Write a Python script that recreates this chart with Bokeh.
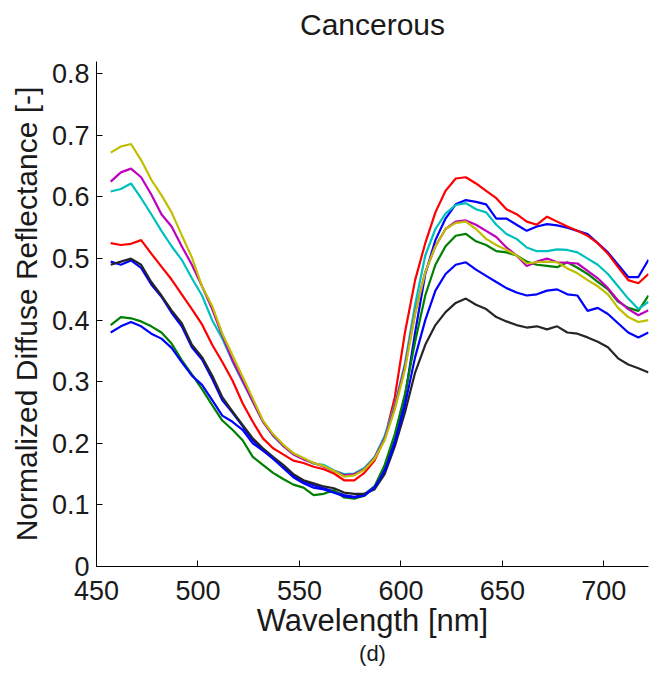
from bokeh.plotting import figure
from bokeh.models import Range1d, FixedTicker, Title
from bokeh.embed import file_html
from bokeh.resources import INLINE

wavelength = [457, 462, 467, 472, 477, 482, 487, 492, 497, 502, 507, 512, 517, 522,
              527, 532, 537, 542, 547, 552, 557, 562, 567, 572, 577, 582, 587, 592,
              597, 602, 607, 612, 617, 622, 627, 632, 637, 642, 647, 652, 657, 662,
              667, 672, 677, 682, 687, 692, 697, 702, 707, 712, 717, 722]

blue_1 = [0.495, 0.49, 0.497, 0.485, 0.458, 0.438, 0.412, 0.39, 0.356, 0.336, 0.305, 0.27,
          0.25, 0.228, 0.205, 0.19, 0.175, 0.162, 0.148, 0.138, 0.132, 0.127, 0.122, 0.116,
          0.113, 0.117, 0.13, 0.158, 0.205, 0.275, 0.38, 0.475, 0.53, 0.565, 0.588, 0.595,
          0.592, 0.588, 0.565, 0.565, 0.555, 0.545, 0.552, 0.556, 0.554, 0.55, 0.545, 0.54,
          0.525, 0.51, 0.49, 0.47, 0.47, 0.498]
green = [0.392, 0.405, 0.403, 0.398, 0.39, 0.38, 0.362, 0.335, 0.312, 0.288, 0.262, 0.237,
         0.222, 0.205, 0.178, 0.165, 0.152, 0.142, 0.133, 0.128, 0.116, 0.118, 0.124, 0.112,
         0.11, 0.115, 0.13, 0.165, 0.215, 0.28, 0.365, 0.44, 0.49, 0.52, 0.537, 0.54,
         0.528, 0.522, 0.512, 0.51, 0.505, 0.495, 0.49, 0.488, 0.486, 0.494, 0.485, 0.475,
         0.462, 0.45, 0.43, 0.42, 0.415, 0.44]
red = [0.525, 0.522, 0.524, 0.53, 0.508, 0.487, 0.466, 0.442, 0.418, 0.393, 0.36, 0.332,
       0.302, 0.265, 0.235, 0.208, 0.192, 0.182, 0.172, 0.168, 0.162, 0.158, 0.151, 0.14,
       0.14, 0.152, 0.172, 0.208, 0.275, 0.38, 0.465, 0.525, 0.575, 0.61, 0.63, 0.632,
       0.622, 0.61, 0.598, 0.58, 0.572, 0.56, 0.555, 0.568, 0.56, 0.552, 0.545, 0.537,
       0.525, 0.508, 0.486, 0.465, 0.46, 0.475]
cyan = [0.609, 0.613, 0.622, 0.598, 0.572, 0.545, 0.52, 0.498, 0.468, 0.44, 0.4, 0.37,
        0.333, 0.3, 0.268, 0.236, 0.212, 0.196, 0.184, 0.175, 0.167, 0.165, 0.156, 0.15,
        0.151, 0.16, 0.178, 0.212, 0.262, 0.33, 0.425, 0.505, 0.548, 0.573, 0.587, 0.59,
        0.58, 0.575, 0.555, 0.54, 0.532, 0.518, 0.512, 0.512, 0.515, 0.514, 0.51, 0.5,
        0.49, 0.475, 0.455, 0.435, 0.418, 0.43]
magenta = [0.625, 0.64, 0.646, 0.632, 0.604, 0.572, 0.552, 0.52, 0.49, 0.455, 0.418, 0.375,
           0.335, 0.302, 0.268, 0.235, 0.213, 0.196, 0.182, 0.174, 0.168, 0.162, 0.155, 0.148,
           0.15, 0.158, 0.176, 0.208, 0.258, 0.325, 0.412, 0.478, 0.52, 0.548, 0.56, 0.562,
           0.555, 0.545, 0.535, 0.518, 0.505, 0.488, 0.495, 0.5, 0.494, 0.493, 0.492, 0.48,
           0.468, 0.452, 0.432, 0.418, 0.408, 0.416]
yellow = [0.672, 0.682, 0.686, 0.66, 0.628, 0.603, 0.575, 0.538, 0.502, 0.455, 0.423, 0.378,
          0.343, 0.308, 0.273, 0.237, 0.215, 0.198, 0.184, 0.176, 0.168, 0.163, 0.155, 0.146,
          0.148, 0.157, 0.175, 0.205, 0.255, 0.32, 0.41, 0.478, 0.52, 0.548, 0.558, 0.56,
          0.548, 0.532, 0.522, 0.514, 0.505, 0.492, 0.494, 0.495, 0.494, 0.484, 0.476, 0.465,
          0.455, 0.442, 0.42, 0.405, 0.397, 0.4]
black = [0.49, 0.495, 0.5, 0.49, 0.462, 0.44, 0.416, 0.395, 0.36, 0.34, 0.31, 0.275,
         0.252, 0.23, 0.208, 0.192, 0.178, 0.165, 0.15, 0.14, 0.135, 0.13, 0.127, 0.12,
         0.118, 0.118, 0.125, 0.15, 0.195, 0.25, 0.315, 0.36, 0.392, 0.413, 0.428, 0.435,
         0.425, 0.418, 0.405, 0.398, 0.392, 0.388, 0.39, 0.385, 0.39, 0.38, 0.378, 0.372,
         0.365, 0.356, 0.338, 0.328, 0.322, 0.315]
blue_2 = [0.38, 0.39, 0.397, 0.39, 0.378, 0.37, 0.355, 0.332, 0.31, 0.295, 0.27, 0.245,
          0.235, 0.222, 0.2, 0.188, 0.175, 0.16, 0.145, 0.135, 0.128, 0.125, 0.12, 0.114,
          0.112, 0.115, 0.128, 0.155, 0.2, 0.262, 0.34, 0.4, 0.448, 0.475, 0.49, 0.494,
          0.482, 0.472, 0.462, 0.452, 0.445, 0.44, 0.442, 0.448, 0.45, 0.442, 0.44, 0.415,
          0.42, 0.41, 0.395, 0.38, 0.372, 0.38]

x_ticks = [450, 500, 550, 600, 650, 700]
y_ticks = [0, 0.1, 0.2, 0.3, 0.4, 0.5, 0.6, 0.7, 0.8]
y_tick_labels = ["0", "0.1", "0.2", "0.3", "0.4", "0.5", "0.6", "0.7", "0.8"]

series = [
    (blue_1, "#0000ff"),
    (green, "#008000"),
    (red, "#ff0000"),
    (cyan, "#00bfbf"),
    (magenta, "#bf00bf"),
    (yellow, "#bfbf00"),
    (black, "#262626"),
    (blue_2, "#0000ff"),
]

FONT = "Liberation Sans"
TXT = "#1a1a1a"

p = figure(width=649, height=673, x_range=Range1d(450, 722), y_range=Range1d(0, 0.82),
           output_backend="svg", toolbar_location=None,
           min_border_left=96, min_border_right=1, min_border_top=61, min_border_bottom=107)

for vals, col in series:
    p.line(wavelength, vals, line_color=col, line_width=2.2)

# empty built-in title; a small blank spacer sits next to the frame, the real title above it
p.title.text = ""
p.add_layout(Title(text=" ", text_font=FONT, text_font_size="10px", standoff=8), "above")
p.add_layout(Title(text="Cancerous", align="center", text_font=FONT, text_font_size="30px",
                   text_font_style="normal", text_color=TXT, standoff=0), "above")

p.add_layout(Title(text="(d)", align="center", text_font=FONT, text_font_size="22px",
                   text_font_style="normal", text_color=TXT, standoff=0,
                   vertical_align="top"), "below")

p.xaxis.ticker = FixedTicker(ticks=x_ticks)
p.yaxis.ticker = FixedTicker(ticks=y_ticks)
p.yaxis.major_label_overrides = {t: s for t, s in zip(y_ticks, y_tick_labels)}
p.xaxis.axis_label = "Wavelength [nm]"
p.yaxis.axis_label = "Normalized Diffuse Reflectance [-]"

for ax in (p.xaxis, p.yaxis):
    ax.axis_label_text_font = FONT
    ax.axis_label_text_font_style = "normal"
    ax.axis_label_text_color = TXT
    ax.major_label_text_font = FONT
    ax.major_label_text_font_size = "27px"
    ax.major_label_text_color = TXT
    ax.major_tick_in = 6
    ax.major_tick_out = 0
    ax.minor_tick_line_color = None
    ax.axis_line_color = "#000000"
    ax.major_tick_line_color = "#000000"

p.xaxis.axis_label_text_font_size = "31px"
p.yaxis.axis_label_text_font_size = "30px"
p.xaxis.major_label_standoff = 14
p.xaxis.axis_label_standoff = 0
p.yaxis.major_label_standoff = 7
p.yaxis.axis_label_standoff = 6

p.xgrid.grid_line_color = None
p.ygrid.grid_line_color = None
p.outline_line_color = None
p.background_fill_color = "white"
p.border_fill_color = "white"

open("out.html", "w").write(file_html(p, INLINE))
